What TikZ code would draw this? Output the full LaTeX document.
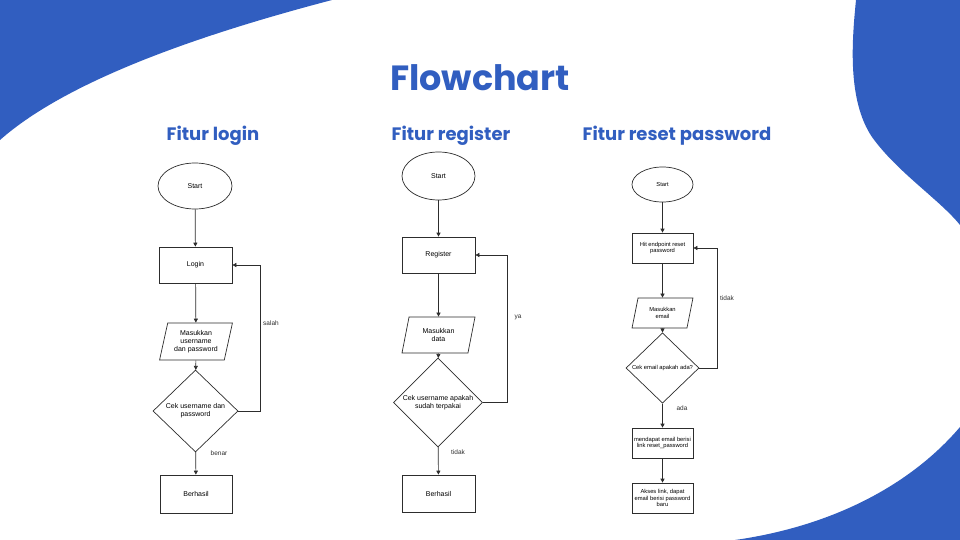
\documentclass[tikz,border=0pt]{standalone}
\usepackage{fontspec}
\setmainfont{Liberation Sans}
\newfontfamily\headfont{Poppins}
\usetikzlibrary{arrows.meta,shapes.geometric}
\definecolor{deckblue}{RGB}{49,94,192}
\definecolor{flowline}{RGB}{45,45,45}

\begin{document}
\begin{tikzpicture}[x=1pt,y=-1pt,>={Triangle[width=4pt,length=4pt]},
 box/.style={draw=flowline,line width=0.7pt,fill=white,align=center,inner sep=1pt},
 term/.style={box,ellipse},
 proc/.style={box,rectangle},
 io/.style={box,trapezium,trapezium left angle=75,trapezium right angle=105,trapezium stretches=true},
 chk/.style={box,diamond},
 big/.style={font=\fontsize{7}{8}\selectfont},
 sml/.style={font=\fontsize{5.8}{6.8}\selectfont},
 lbl/.style={font=\fontsize{6.5}{7}\selectfont,text=flowline},
 ar/.style={->,draw=flowline,line width=0.7pt},
 head/.style={font=\headfont\bfseries\fontsize{18}{21}\selectfont,text=deckblue}]
\useasboundingbox (0,0) rectangle (960,540);
\fill[white] (0,0) rectangle (960,540);
% background blobs
\fill[deckblue] (0,0) -- (332,0) .. controls (210,32) and (70,78) .. (0,140) -- cycle;
\fill[deckblue] (856,0) .. controls (852,40) and (847,100) .. (872,137)
  .. controls (897,172) and (940,200) .. (960,225) -- (960,0) -- cycle;
\fill[deckblue] (735,540) .. controls (840,525) and (915,480) .. (960,427) -- (960,540) -- cycle;
% titles
\node[font=\headfont\bfseries\fontsize{35}{38}\selectfont,text=deckblue] (ttl) at (480,78) {Flowchart};
\node[head] (hlog) at (213,136) {Fitur login};
\node[head] (hreg) at (451,136) {Fitur register};
\node[head] (hres) at (677,136) {Fitur reset password};
% login
\node[term,big,minimum width=74pt,minimum height=46pt] (s1) at (195,186) {Start};
\node[proc,big,minimum width=73pt,minimum height=36pt] (l1) at (195.5,265) {Login};
\node[io,big,minimum width=73pt,minimum height=37pt] (p1) at (196,341.5) {Masukkan\\username\\dan password};
\node[chk,big,minimum width=85pt,minimum height=82pt] (d1) at (195.5,411) {Cek username dan\\password};
\node[proc,big,minimum width=72pt,minimum height=38pt] (b1) at (196,494) {Berhasil};
\node[lbl] (n1) at (271,323) {salah};
\node[lbl] (y1) at (219,453) {benar};
% register
\node[term,big,minimum width=73pt,minimum height=48pt] (s2) at (438.5,176) {Start};
\node[proc,big,minimum width=73pt,minimum height=36pt] (r2) at (438.5,255) {Register};
\node[io,big,minimum width=73pt,minimum height=36pt] (p2) at (438.5,335) {Masukkan\\data};
\node[chk,big,minimum width=89pt,minimum height=71pt] (d2) at (438,402.5) {Cek username apakah\\sudah terpakai};
\node[proc,big,minimum width=73pt,minimum height=37pt] (b2) at (438.5,493.5) {Berhasil};
\node[lbl] (n2) at (518,317) {ya};
\node[lbl] (y2) at (458,452) {tidak};
% reset password
\node[term,sml,minimum width=61pt,minimum height=35pt] (s3) at (662.5,184.5) {Start};
\node[proc,sml,minimum width=61pt,minimum height=30pt] (h3) at (662.5,248) {Hit endpoint reset\\password};
\node[io,sml,minimum width=61pt,minimum height=30pt] (p3) at (662.5,313) {Masukkan\\email};
\node[chk,sml,minimum width=73pt,minimum height=60pt] (d3) at (662.5,368) {Cek email apakah ada?};
\node[proc,sml,minimum width=61pt,minimum height=30pt] (m3) at (662.5,443) {mendapat email berisi\\link reset\_password};
\node[proc,sml,minimum width=61pt,minimum height=30pt] (a3) at (662.5,498) {Akses link, dapat\\email berisi password\\baru};
\node[lbl] (n3) at (727,298) {tidak};
\node[lbl] (y3) at (682,408) {ada};
% connectors
\foreach \a/\b in {s1/l1,l1/p1,p1/d1,d1/b1,s2/r2,r2/p2,p2/d2,d2/b2,s3/h3,h3/p3,p3/d3,d3/m3,m3/a3}
  \draw[ar] (\a) -- (\b);
\draw[ar] (d1.east) -- ++(22,0) |- (l1.east);
\draw[ar] (d2.east) -- ++(24,0) |- (r2.east);
\draw[ar] (d3.east) -- ++(18,0) |- (h3.east);
\end{tikzpicture}
\end{document}
